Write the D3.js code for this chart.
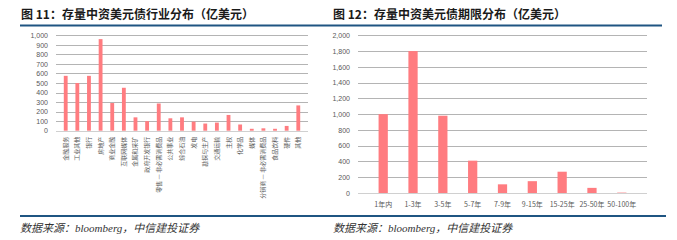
<!DOCTYPE html>
<html>
<head>
<meta charset="utf-8">
<script src="https://cdn.jsdelivr.net/npm/d3@7"></script>
<style>
  body { margin: 0; background: #fff; }
  svg { display: block; font-family: "Noto Sans CJK SC", "Noto Sans", sans-serif; }
</style>
</head>
<body>
<svg id="chart" width="677" height="240"></svg>
<script>
'use strict'

// 图11 行业分布
var industries = ["金融服务","工业其他","银行","房地产","商业金融","互联网媒体","金属和采矿","政府开发银行",
  "零售 — 非必需消费品","公共事业","综合石油","发电","勘探与生产","交通运输","主权","化学品","媒体",
  "分销商 — 非必需消费品","食品饮料","硬件","其他"]
var industryValues = [575, 500, 575, 960, 290, 450, 140, 100, 285, 130, 140, 95, 75, 85, 165, 65, 20, 25, 20, 50, 265]
var leftTicks = [0, 100, 200, 300, 400, 500, 600, 700, 800, 900, 1000]

// 图12 期限分布
var terms = ["1年内","1-3年","3-5年","5-7年","7-9年","9-15年","15-25年","25-50年","50-100年"]
var termValues = [1000, 1800, 980, 410, 110, 150, 270, 65, 5]
var rightTicks = [0, 200, 400, 600, 800, 1000, 1200, 1400, 1600, 1800, 2000]

var barColor = "#ff7c80",
    gridColor = "#b4b4b4",
    axisText = "#595959",
    lineBlue = "#1f5582"

var svg = d3.select("#chart")
var fmt = d3.format(",")

// titles + rules
svg.append("text").attr("x", 21).attr("y", 19)
  .attr("font-size", 12).attr("font-weight", "bold").attr("fill", "#1a1a1a")
  .text("图 11：存量中资美元债行业分布（亿美元）")
svg.append("text").attr("x", 333).attr("y", 19)
  .attr("font-size", 12).attr("font-weight", "bold").attr("fill", "#1a1a1a")
  .text("图 12：存量中资美元债期限分布（亿美元）")

svg.append("line").attr("x1", 20).attr("x2", 662).attr("y1", 25.5).attr("y2", 25.5)
  .attr("stroke", lineBlue).attr("stroke-width", 2)
svg.append("line").attr("x1", 20).attr("x2", 666).attr("y1", 216).attr("y2", 216)
  .attr("stroke", lineBlue).attr("stroke-width", 2)

;[20, 333].forEach(x => {
  svg.append("text").attr("x", x).attr("y", 232)
    .attr("font-size", 11).attr("font-style", "italic").attr("fill", "#333")
    .attr("font-family", "'Liberation Serif', 'Noto Sans CJK SC', serif")
    .text("数据来源：bloomberg，中信建投证券")
})

function drawChart(cats, vals, ticks, box, padding, rotateLabels){
  var x = d3.scaleBand().domain(cats).range([box.left, box.right]).padding(padding)
  var y = d3.scaleLinear().domain([ticks[0], ticks[ticks.length - 1]]).range([box.bottom, box.top])

  var g = svg.append("g")

  // gridlines
  g.selectAll("line.grid").data(ticks).enter().append("line")
    .attr("x1", box.left).attr("x2", box.right)
    .attr("y1", d => Math.round(y(d)) + 0.5).attr("y2", d => Math.round(y(d)) + 0.5)
    .attr("stroke", d => d == 0 ? "#d0d0d0" : gridColor).attr("stroke-width", 1)

  // y labels
  var yAxis = g.append("g").attr("transform", "translate(" + (box.left - 8) + ",0)")
    .call(d3.axisLeft(y).tickValues(ticks).tickFormat(fmt).tickSize(0).tickPadding(0))
  yAxis.select(".domain").remove()
  yAxis.selectAll("text").attr("font-size", 7).attr("fill", axisText)
    .attr("font-family", "'Liberation Sans', Arial, sans-serif")

  // bars
  g.selectAll("rect").data(vals).enter().append("rect")
    .attr("x", (d, i) => x(cats[i]))
    .attr("y", d => y(d))
    .attr("width", x.bandwidth())
    .attr("height", d => y(0) - y(d))
    .attr("fill", barColor)

  // category labels
  if (rotateLabels){
    g.selectAll("text.cat").data(cats).enter().append("text")
      .attr("class", "cat")
      .attr("transform", d => "translate(" + (x(d) + x.bandwidth() / 2 + 2) + "," + (box.bottom + 6) + ") rotate(-90)")
      .attr("text-anchor", "end")
      .attr("font-size", 6).attr("fill", axisText)
      .text(d => d)
  } else {
    g.selectAll("text.cat").data(cats).enter().append("text")
      .attr("class", "cat")
      .attr("x", d => x(d) + x.bandwidth() / 2)
      .attr("y", box.bottom + 14)
      .attr("text-anchor", "middle")
      .attr("font-size", 7).attr("fill", axisText)
      .text(d => d)
  }
}

drawChart(industries, industryValues, leftTicks, {left: 56, right: 308, top: 35.3, bottom: 130.7}, 0.67, true)
drawChart(terms, termValues, rightTicks, {left: 358, right: 647, top: 35.3, bottom: 193}, 0.69, false)
</script>
</body>
</html>
